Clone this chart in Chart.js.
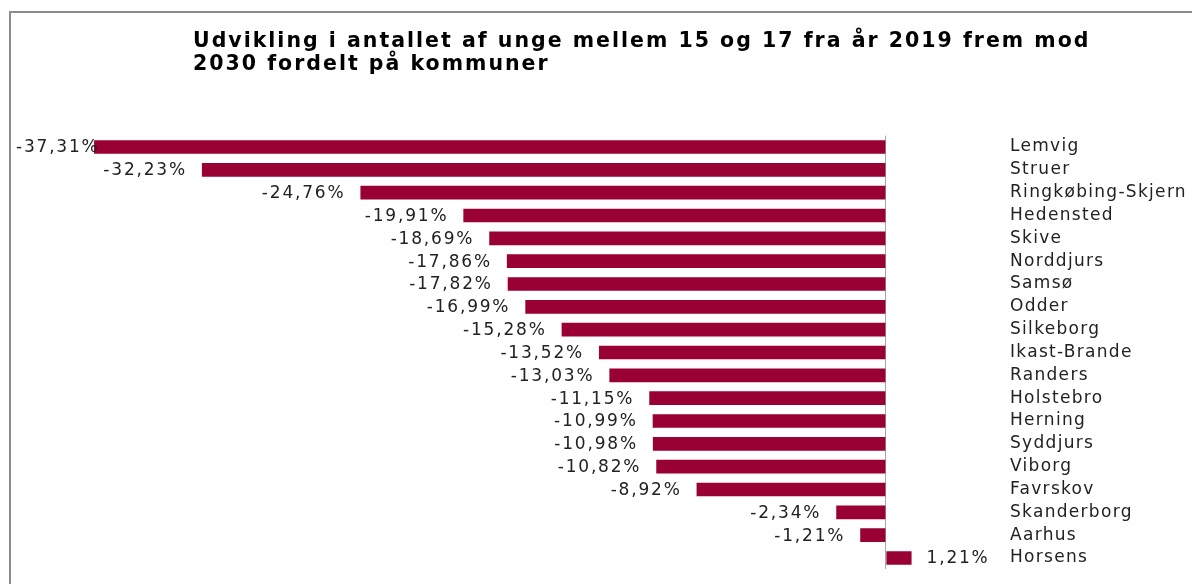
<!DOCTYPE html>
<html>
<head>
<meta charset="utf-8">
<script src="https://cdn.jsdelivr.net/npm/chart.js@4/dist/chart.umd.min.js"></script>
<style>
  html, body { margin: 0; padding: 0; background: #fff; overflow: hidden; }
  #wrap { position: relative; width: 1192px; height: 584px; overflow: hidden; }
  #title { position: absolute; left: 193px; top: 29px; font-family: "DejaVu Sans", sans-serif;
           font-weight: bold; font-size: 20.5px; line-height: 22.5px; color: #000; white-space: nowrap; letter-spacing: 2px; }
  canvas { position: absolute; left: 0; top: 0; }
</style>
</head>
<body>
<div id="wrap">
  <canvas id="c" width="1192" height="584"></canvas>
  <div id="title">Udvikling i antallet af unge mellem 15 og 17 fra år 2019 frem mod<br>2030 fordelt på kommuner</div>
</div>
<script>
const categories = ["Lemvig","Struer","Ringkøbing-Skjern","Hedensted","Skive","Norddjurs","Samsø","Odder","Silkeborg","Ikast-Brande","Randers","Holstebro","Herning","Syddjurs","Viborg","Favrskov","Skanderborg","Aarhus","Horsens"];
const values = [-37.31,-32.23,-24.76,-19.91,-18.69,-17.86,-17.82,-16.99,-15.28,-13.52,-13.03,-11.15,-10.99,-10.98,-10.82,-8.92,-2.34,-1.21,1.21];
const axisMin = -40;
const axisMax = 5;

const FONT = { family: "DejaVu Sans", size: 17 };
const TXT = "#222222";
const fmt = v => v.toFixed(2).replace('.', ',') + '%';

const framePlugin = {
  id: 'frame',
  beforeLayout(chart) { chart.ctx.letterSpacing = '1.3px'; },
  beforeDraw(chart) {
    const ctx = chart.ctx;
    ctx.letterSpacing = '1.3px';
    ctx.save();
    ctx.strokeStyle = '#8c8c8c';
    ctx.lineWidth = 2;
    ctx.beginPath();
    ctx.moveTo(10, chart.height + 5);
    ctx.lineTo(10, 12);
    ctx.lineTo(chart.width + 5, 12);
    ctx.stroke();
    ctx.restore();
  }
};

const valueLabels = {
  id: 'valueLabels',
  afterDatasetsDraw(chart) {
    const ctx = chart.ctx;
    const meta = chart.getDatasetMeta(0);
    ctx.save();
    ctx.letterSpacing = '1.8px';
    ctx.font = FONT.size + 'px "' + FONT.family + '"';
    ctx.fillStyle = TXT;
    ctx.textBaseline = 'middle';
    meta.data.forEach((bar, i) => {
      const v = values[i];
      const t = fmt(v);
      const y = bar.y + 1;
      if (v < 0) {
        const w = ctx.measureText(t).width;
        let xr = bar.x - 15;
        if (xr - w < 16) { ctx.textAlign = 'left'; ctx.fillText(t, 16, y); }
        else { ctx.textAlign = 'right'; ctx.fillText(t, xr, y); }
      } else {
        ctx.textAlign = 'left';
        ctx.fillText(t, bar.x + 15, y);
      }
    });
    ctx.restore();
  }
};

new Chart(document.getElementById('c'), {
  type: 'bar',
  data: {
    labels: categories,
    datasets: [{
      data: values,
      backgroundColor: '#990033',
      borderWidth: 0,
      barPercentage: 0.6,
      categoryPercentage: 1.0
    }]
  },
  options: {
    indexAxis: 'y',
    responsive: false,
    animation: false,
    layout: { padding: { left: 37, top: 135.6, bottom: 14.6, right: 0 } },
    plugins: { legend: { display: false }, tooltip: { enabled: false }, title: { display: false } },
    scales: {
      x: {
        min: axisMin, max: axisMax,
        ticks: { display: false },
        border: { display: false },
        afterFit: s => { s.height = 0; s.paddingLeft = 0; s.paddingRight = 0; },
        grid: {
          drawTicks: false,
          color: c => (c.tick && c.tick.value === 0) ? '#a6a6a6' : 'rgba(0,0,0,0)',
          lineWidth: 1
        }
      },
      y: {
        position: 'right',
        border: { display: false },
        grid: { display: false, drawTicks: false },
        afterFit: s => { s.width = 200; s.paddingTop = 0; s.paddingBottom = 0; },
        ticks: {
          crossAlign: 'near',
          padding: 18,
          color: TXT,
          font: FONT,
          autoSkip: false
        }
      }
    }
  },
  plugins: [framePlugin, valueLabels]
});
</script>
</body>
</html>
